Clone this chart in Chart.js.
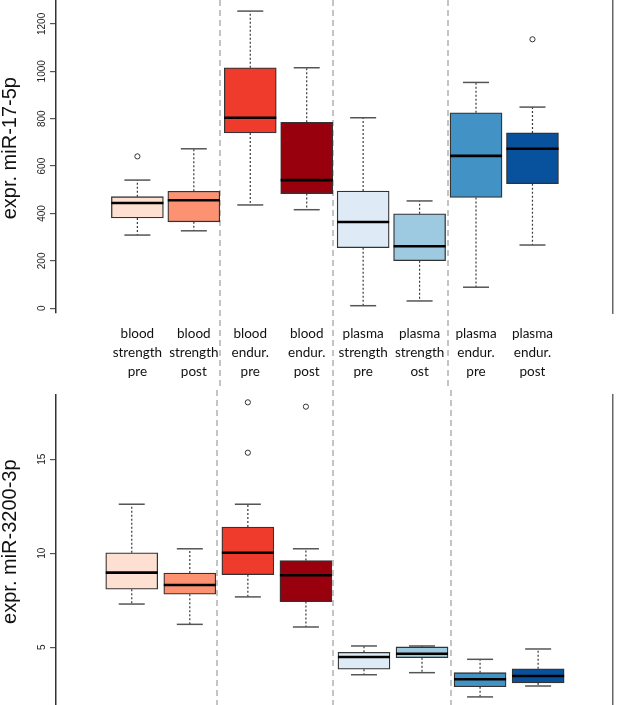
<!DOCTYPE html>
<html>
<head>
<meta charset="utf-8">
<script src="https://cdn.jsdelivr.net/npm/chart.js@4.4.1/dist/chart.umd.min.js"></script>
<style>
  body { margin: 0; background: #fff; }
  #wrap { position: relative; width: 635px; height: 705px; }
  #topChart { position: absolute; left: 0; top: 0; }
  #bottomChart { position: absolute; left: 0; top: 390px; }
</style>
</head>
<body>
<div id="wrap">
  <canvas id="topChart" width="635" height="390"></canvas>
  <canvas id="bottomChart" width="635" height="315"></canvas>
</div>
<script>
// --- Data ---
const groupLabels = [
    ['blood', 'strength', 'pre'],
    ['blood', 'strength', 'post'],
    ['blood', 'endur.', 'pre'],
    ['blood', 'endur.', 'post'],
    ['plasma', 'strength', 'pre'],
    ['plasma', 'strength', 'ost'],
    ['plasma', 'endur.', 'pre'],
    ['plasma', 'endur.', 'post']
];
const boxColors = ['#FEE0D2', '#FC9272', '#EF3B2C', '#99000D', '#DEEBF7', '#9ECAE1', '#4292C6', '#08519C'];

// miR-17-5p
const mir17Low  = [309, 327, 436, 416, 11, 31, 89, 267];
const mir17Q1   = [381, 365, 740, 484, 256, 201, 468, 526];
const mir17Med  = [444, 456, 804, 541, 364, 262, 643, 673];
const mir17Q3   = [471, 494, 1015, 785, 495, 399, 825, 740];
const mir17High = [541, 673, 1254, 1015, 804, 453, 953, 849];
const mir17Out  = [[641], [], [], [], [], [], [], [1135]];
const mir17Ticks = [0, 200, 400, 600, 800, 1000, 1200];

// miR-3200-3p
const mir3200Low  = [7.30, 6.22, 7.68, 6.08, 3.54, 3.65, 2.36, 2.94];
const mir3200Q1   = [8.09, 7.82, 8.86, 7.43, 3.83, 4.45, 2.90, 3.10];
const mir3200Med  = [8.97, 8.31, 10.03, 8.83, 4.48, 4.66, 3.30, 3.47];
const mir3200Q3   = [10.03, 8.95, 11.40, 9.61, 4.73, 5.02, 3.65, 3.86];
const mir3200High = [12.61, 10.24, 12.61, 10.24, 5.07, 5.07, 4.36, 4.91];
const mir3200Out  = [[], [], [18.03, 15.35], [17.80], [], [], [], []];
const mir3200Ticks = [5, 10, 15];

// dashed group separators (in box-position units)
const separators = [2.46, 4.465, 6.5];

const xMin = 0.175, xMax = 8.81;

// draws the grey dashed separators through the whole canvas height
const separatorPlugin = {
    id: 'separators',
    beforeDatasetsDraw(chart) {
        const ctx = chart.ctx;
        const x = chart.scales.x;
        ctx.save();
        ctx.strokeStyle = '#c4c4c4';
        ctx.lineWidth = 2;
        ctx.setLineDash([6, 4]);
        separators.forEach(s => {
            const px = Math.round(x.getPixelForValue(s));
            ctx.beginPath();
            ctx.moveTo(px, 0);
            ctx.lineTo(px, chart.height);
            ctx.stroke();
        });
        ctx.restore();
    }
};

// no extra margins for labels sticking out at the ends of an axis
function noPadding(scale) {
    scale.paddingLeft = 0;
    scale.paddingRight = 0;
    scale.paddingTop = 0;
    scale.paddingBottom = 0;
}

function buildDatasets(low, q1, med, q3, high, out) {
    const pos = low.map((_, i) => i + 1);

    const whiskers = [];
    pos.forEach((p, i) => {
        whiskers.push({ x: p, y: q3[i] }, { x: p, y: high[i] }, { x: p, y: null });
        whiskers.push({ x: p, y: q1[i] }, { x: p, y: low[i] }, { x: p, y: null });
    });

    const caps = [];
    pos.forEach((p, i) => {
        caps.push({ x: p, y: low[i] }, { x: p, y: high[i] });
    });

    const outliers = [];
    out.forEach((vals, i) => vals.forEach(v => outliers.push({ x: i + 1, y: v })));

    return [
        {
            type: 'line',
            data: whiskers,
            borderColor: '#3a3a3a',
            borderWidth: 1.2,
            borderDash: [2, 2],
            pointRadius: 0,
            spanGaps: false,
            order: 5
        },
        {
            type: 'scatter',
            data: caps,
            pointStyle: 'line',
            pointRadius: 13,
            borderColor: '#555',
            pointBorderWidth: 1.5,
            order: 4
        },
        {
            type: 'bar',
            data: pos.map((p, i) => ({ x: p, y: [q1[i], q3[i]] })),
            backgroundColor: boxColors,
            borderColor: '#333',
            borderWidth: 1.3,
            borderSkipped: false,
            barThickness: 52,
            order: 3
        },
        {
            type: 'scatter',
            data: pos.map((p, i) => ({ x: p, y: med[i] })),
            pointStyle: 'line',
            pointRadius: 26,
            borderColor: '#000',
            pointBorderWidth: 2.6,
            order: 1
        },
        {
            type: 'scatter',
            data: outliers,
            pointStyle: 'circle',
            pointRadius: 2.6,
            backgroundColor: '#fff',
            borderColor: '#333',
            pointBorderWidth: 1,
            order: 2
        }
    ];
}

function yAxis(title, ticks, min, max, pad) {
    return {
        type: 'linear',
        position: 'left',
        min: min,
        max: max,
        afterBuildTicks: scale => { scale.ticks = ticks.map(v => ({ value: v })); },
        afterFit: scale => { scale.width = 56; noPadding(scale); },
        border: { display: true, color: '#333', width: 1.5 },
        grid: { display: true, drawOnChartArea: false, drawTicks: true, tickLength: 6, color: '#555', lineWidth: 1.2 },
        ticks: {
            autoSkip: false,
            minRotation: 90,
            maxRotation: 90,
            crossAlign: 'center',
            padding: pad,
            color: '#222',
            font: { family: 'Liberation Sans', size: 10 },
            callback: v => String(v)
        },
        title: {
            display: true,
            text: title,
            color: '#111',
            padding: 0,
            font: { family: 'Liberation Sans', size: 20, lineHeight: 1 }
        }
    };
}

const rightBorder = {
    type: 'linear',
    position: 'right',
    afterFit: scale => { scale.width = 0; noPadding(scale); },
    ticks: { display: false },
    grid: { display: false },
    border: { display: true, color: '#666', width: 1.5 }
};

const commonPlugins = { legend: { display: false }, tooltip: { enabled: false } };

// --- Top panel: miR-17-5p ---
new Chart(document.getElementById('topChart'), {
    type: 'bar',
    data: { datasets: buildDatasets(mir17Low, mir17Q1, mir17Med, mir17Q3, mir17High, mir17Out) },
    options: {
        responsive: false,
        animation: false,
        layout: { autoPadding: false, padding: { left: 0, right: 22, top: 0, bottom: 0 } },
        plugins: commonPlugins,
        scales: {
            x: {
                type: 'linear',
                min: xMin,
                max: xMax,
                afterBuildTicks: scale => { scale.ticks = groupLabels.map((_, i) => ({ value: i + 1 })); },
                afterFit: scale => { scale.height = 77; noPadding(scale); },
                border: { display: false },
                grid: { display: false, drawTicks: false },
                ticks: {
                    autoSkip: false,
                    maxRotation: 0,
                    padding: 11.5,
                    color: '#111',
                    font: { family: 'Lato', size: 13.5, lineHeight: 1.4 },
                    callback: value => groupLabels[value - 1]
                }
            },
            y: yAxis('   expr. miR-17-5p', mir17Ticks, -19.8, 1300.8, -3),
            yr: rightBorder
        }
    },
    plugins: [separatorPlugin]
});

// --- Bottom panel: miR-3200-3p ---
new Chart(document.getElementById('bottomChart'), {
    type: 'bar',
    data: { datasets: buildDatasets(mir3200Low, mir3200Q1, mir3200Med, mir3200Q3, mir3200High, mir3200Out) },
    options: {
        responsive: false,
        animation: false,
        layout: { autoPadding: false, padding: { left: 0, right: 22, top: 5, bottom: 0 } },
        plugins: commonPlugins,
        scales: {
            x: { type: 'linear', min: xMin, max: xMax, display: false },
            y: yAxis('   expr. miR-3200-3p', mir3200Ticks, 1.93, 18.42, 2),
            yr: rightBorder
        }
    },
    plugins: [separatorPlugin]
});
</script>
</body>
</html>
